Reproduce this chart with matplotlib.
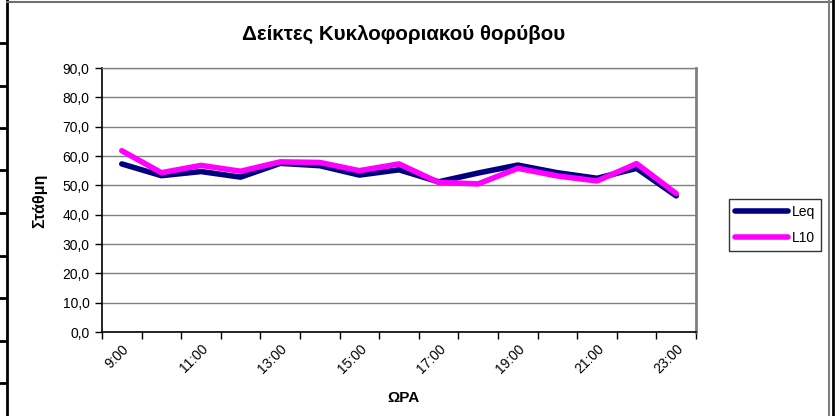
import numpy as np
import matplotlib
matplotlib.use("Agg")
import matplotlib.pyplot as plt
from matplotlib.lines import Line2D
from matplotlib.ticker import FuncFormatter

plt.rcParams['font.family'] = ['Liberation Sans', 'DejaVu Sans']

hours = ["9:00", "10:00", "11:00", "12:00", "13:00", "14:00", "15:00", "16:00",
         "17:00", "18:00", "19:00", "20:00", "21:00", "22:00", "23:00"]
leq = [57.3, 53.3, 54.7, 52.8, 57.5, 56.7, 53.5, 55.3, 51.2, 54.2, 56.9, 54.3, 52.4, 55.8, 46.4]
l10 = [61.8, 54.3, 56.8, 54.8, 58.0, 57.8, 55.0, 57.3, 51.0, 50.5, 55.8, 53.2, 51.5, 57.4, 47.2]
y_ticks = [0, 10, 20, 30, 40, 50, 60, 70, 80, 90]

W, H = 835, 416
fig = plt.figure(figsize=(W / 100, H / 100), dpi=100)
fig.patch.set_facecolor("white")

ax = fig.add_axes([102 / W, 1 - 332 / H, (696 - 102) / W, (332 - 68) / H])
x = np.arange(len(hours))
ax.plot(x, leq, color="#000080", lw=4.0, label="Leq", solid_capstyle="round", zorder=3)
ax.plot(x, l10, color="#FF00FF", lw=4.0, label="L10", solid_capstyle="round", zorder=4)

ax.set_xlim(-0.5, len(hours) - 0.5)
ax.set_ylim(0, 90)
ax.set_yticks(y_ticks)
ax.yaxis.set_major_formatter(FuncFormatter(lambda v, p: f"{v:.1f}".replace(".", ",")))
ax.grid(axis="y", color="#808080", lw=1.0)
ax.set_axisbelow(True)

ax.set_xticks(np.arange(-0.5, len(hours), 1))
ax.set_xticklabels([])
ax.set_xticks(x[::2], minor=True)
ax.set_xticklabels(hours[::2], minor=True, rotation=45, ha="right", va="top",
                   rotation_mode="anchor", fontsize=10)
ax.tick_params(axis="x", which="minor", length=0, pad=7)
ax.tick_params(axis="x", which="major", length=5, width=1, color="black", direction="out")
ax.tick_params(axis="y", length=5, width=1, color="black", direction="out", labelsize=10, pad=4)

for s in ("left", "bottom"):
    ax.spines[s].set_color("black")
    ax.spines[s].set_linewidth(1.2)
ax.spines["top"].set_color("#808080")
ax.spines["top"].set_linewidth(1.0)
ax.spines["right"].set_color("#808080")
ax.spines["right"].set_linewidth(2.0)

fig.text(404 / W, 1 - 34 / H, "Δείκτες Κυκλοφοριακού θορύβου", ha="center", va="center",
         fontsize=14.8, fontweight="bold")
fig.text(40 / W, 1 - 201 / H, "Στάθμη", ha="center", va="center", rotation=90,
         fontsize=11.5, fontweight="bold")
fig.text(403 / W, 1 - 398 / H, "ΩΡΑ", ha="center", va="center", fontsize=11, fontweight="bold")

leg = fig.legend(loc="center", bbox_to_anchor=(775 / W, 1 - 225 / H), fontsize=10,
                 frameon=True, fancybox=False, handlelength=3.8, handletextpad=0.3,
                 labelspacing=0.85, borderpad=0.42, borderaxespad=0)
leg.get_frame().set_edgecolor("black")
leg.get_frame().set_linewidth(1.0)

# spreadsheet-like border decorations
fig.add_artist(Line2D([6.5 / W, 6.5 / W], [0, 1], transform=fig.transFigure, color="black", lw=2))
fig.add_artist(Line2D([7 / W, 831 / W], [1 - 1.5 / H, 1 - 1.5 / H], transform=fig.transFigure,
                      color="#707070", lw=1.5))
fig.add_artist(Line2D([829 / W, 829 / W], [0, 1 - 1 / H], transform=fig.transFigure, color="#808080", lw=1.5))
fig.add_artist(Line2D([832.5 / W, 832.5 / W], [0, 1], transform=fig.transFigure, color="black", lw=2))
for yy in [43, 85.5, 128, 170.5, 213, 255.5, 298, 340.5, 383]:
    fig.add_artist(Line2D([0, 6 / W], [1 - yy / H, 1 - yy / H], transform=fig.transFigure,
                          color="black", lw=2))

fig.savefig("out.png", dpi=100)
